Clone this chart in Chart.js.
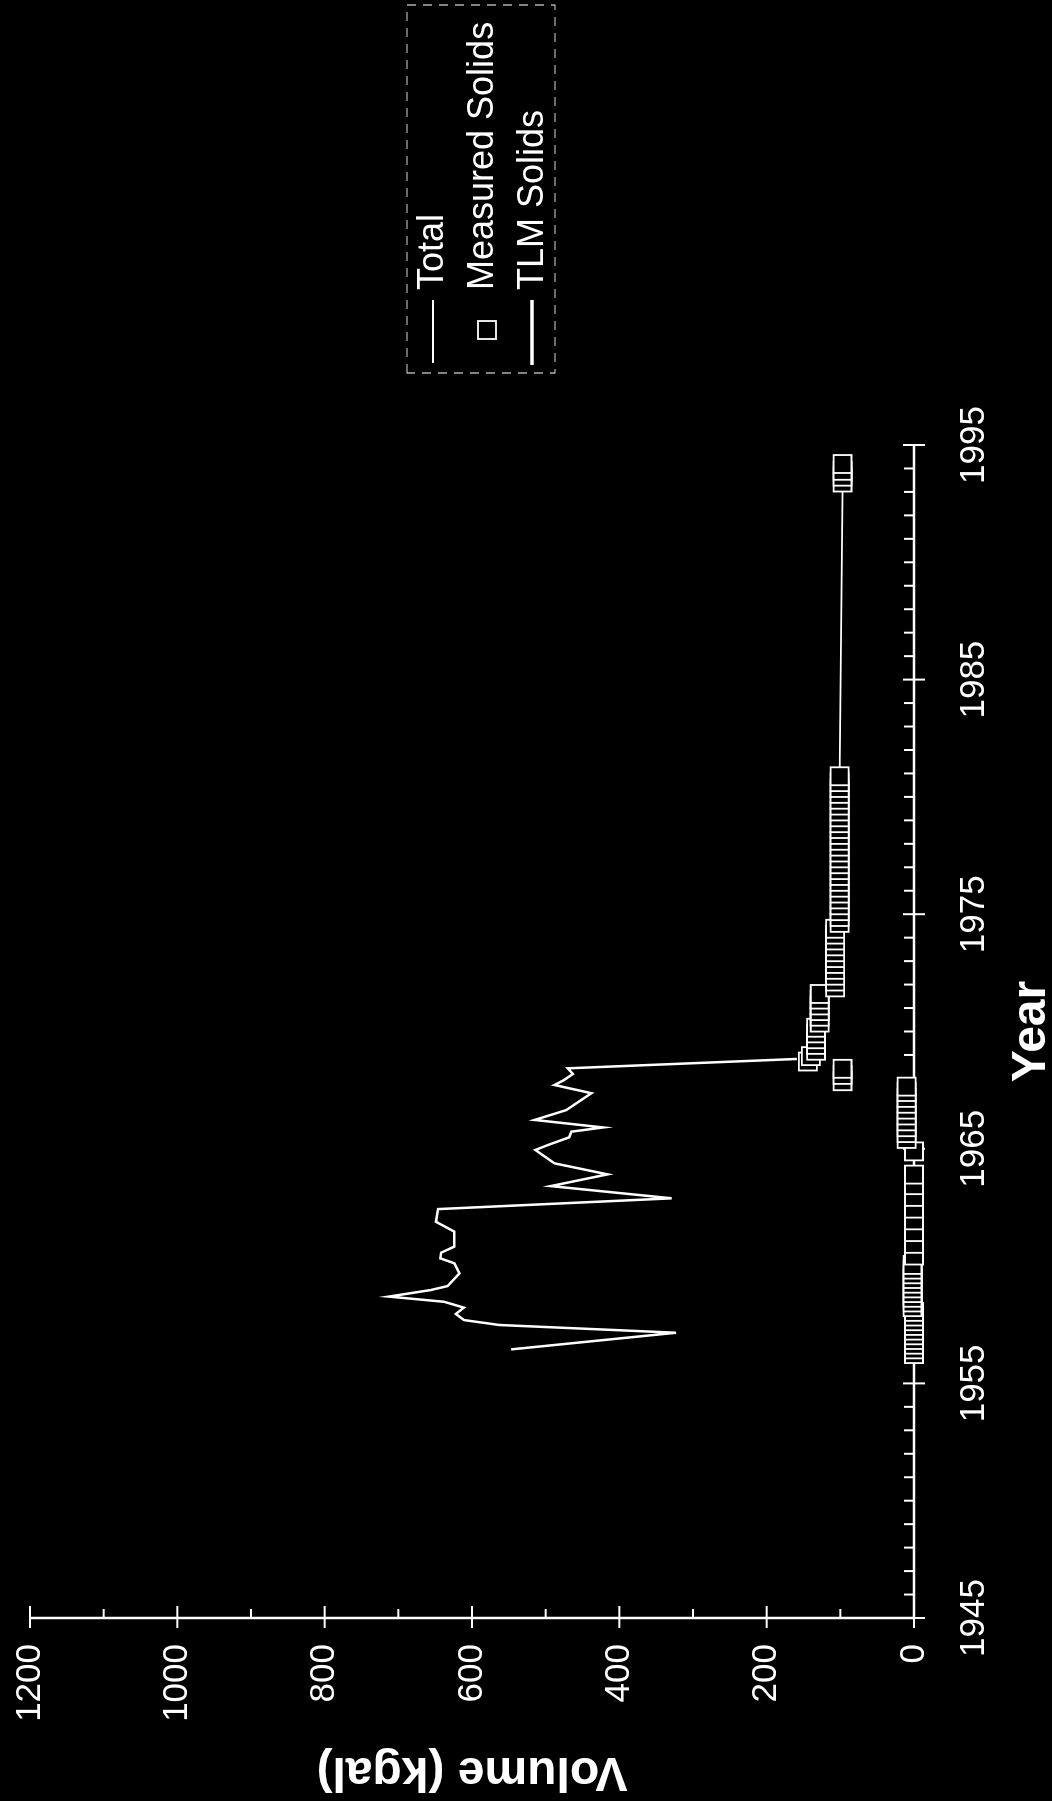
<!DOCTYPE html>
<html><head><meta charset="utf-8">
<script src="https://cdn.jsdelivr.net/npm/chart.js@4/dist/chart.umd.min.js"></script>
<style>
html,body{margin:0;padding:0;background:#000;width:1052px;height:1801px;overflow:hidden;}
#rot{position:absolute;left:0;top:0;width:1801px;height:1052px;transform-origin:0 0;transform:translate(0,1801px) rotate(-90deg);}
canvas{display:block;}
</style></head><body>
<div id="rot"><canvas id="c" width="1801" height="1052"></canvas></div>
<script>
// ---- tick labels ----
const yearTicks = [1945, 1955, 1965, 1975, 1985, 1995];
const volumeTicks = [0, 200, 400, 600, 800, 1000, 1200];
const volumeMinorTicks = [100, 300, 500, 700, 900, 1100];
const yearMinorTicks = [1946,1947,1948,1949,1950,1951,1952,1953,1954,1956,1957,1958,1959,1960,1961,1962,1963,1964,
  1966,1967,1968,1969,1970,1971,1972,1973,1974,1976,1977,1978,1979,1980,1981,1982,1983,1984,
  1986,1987,1988,1989,1990,1991,1992,1993,1994];

// ---- series ----
const seriesNames = ['Total', 'Measured Solids', 'TLM Solids'];

const totalYears = [1956.45, 1957.16, 1957.49, 1957.70, 1957.96, 1958.23, 1958.48, 1958.70, 1958.98, 1959.15,
  1959.69, 1960.12, 1960.33, 1960.57, 1960.83, 1961.47, 1961.89, 1962.43, 1962.89, 1963.41,
  1963.91, 1964.38, 1964.95, 1965.16, 1965.49, 1965.73, 1965.91, 1966.23, 1966.65, 1967.37,
  1967.72, 1967.93, 1968.19, 1968.43, 1968.83];
const totalValues = [547, 323, 563, 611, 622, 611, 638, 713, 656, 633,
  617, 624, 643, 642, 624, 624, 649, 646, 329, 493,
  416, 488, 514, 497, 468, 465, 422, 515, 472, 438,
  488, 475, 463, 470, 159];

const measuredYears = [1956.25, 1956.45, 1956.65, 1956.85, 1957.05, 1957.25, 1957.45, 1957.65, 1957.85, 1958.05,
  1958.25, 1958.45, 1958.65, 1958.85, 1959.05, 1959.25, 1959.45, 1959.65, 1959.85, 1960.05,
  1960.45, 1960.95, 1961.45, 1961.95, 1962.45, 1962.95, 1963.45, 1963.90,
  1964.89,
  1965.42, 1965.67, 1965.92, 1966.17, 1966.42, 1966.67, 1966.92, 1967.17, 1967.42, 1967.65,
  1967.88, 1968.15, 1968.41,
  1968.72, 1968.95,
  1969.18, 1969.43, 1969.67, 1969.92, 1970.16,
  1970.38, 1970.63, 1970.87, 1971.11, 1971.36, 1971.60,
  1971.88, 1972.13, 1972.38, 1972.63, 1972.88, 1973.13, 1973.38, 1973.63, 1973.88, 1974.13, 1974.38,
  1974.63, 1974.88, 1975.13, 1975.38, 1975.63, 1975.88, 1976.13, 1976.38, 1976.63, 1976.88,
  1977.13, 1977.38, 1977.63, 1977.88, 1978.13, 1978.38, 1978.63, 1978.88, 1979.13, 1979.38,
  1979.63, 1979.88, 1980.13, 1980.38, 1980.63, 1980.88,
  1993.40, 1993.65, 1993.90, 1994.19];
const measuredValues = [0, 0, 0, 0, 0, 0, 0, 0, 0, 0,
  2, 2, 2, 2, 2, 2, 2, 2, 2, 2,
  0, 0, 0, 0, 0, 0, 0, 0,
  0,
  10, 10, 10, 10, 10, 10, 10, 10, 10, 10,
  97, 97, 97,
  144, 140,
  133, 133, 133, 133, 133,
  128, 128, 128, 128, 128, 128,
  107, 107, 107, 107, 107, 107, 107, 107, 107, 107, 107,
  101, 101, 101, 101, 101, 101, 101, 101, 101, 101,
  101, 101, 101, 101, 101, 101, 101, 101, 101, 101,
  101, 101, 101, 101, 101, 101,
  97, 97, 97, 97];

const tlmYears = [1956.25, 1960.05, 1960.45, 1963.90, 1964.89, 1965.42, 1967.65, 1967.80, 1968.72, 1968.95,
  1969.18, 1970.16, 1970.38, 1971.60, 1971.88, 1974.38, 1974.63, 1980.88, 1993.40, 1994.19];
const tlmValues = [0, 2, 0, 0, 0, 10, 10, null, 144, 140,
  133, 133, 128, 128, 107, 107, 101, 101, 97, 97];

const toPoints = (xs, ys) => xs.map((x, i) => ({x: x, y: ys[i]}));

const FONT = '"Liberation Sans", Arial, Helvetica, sans-serif';
const WHITE = '#ffffff';

const axesPlugin = {
  id: 'axesPlugin',
  beforeDatasetsDraw(chart) {
    const {ctx, scales: {x, y}} = chart;
    const x0 = x.getPixelForValue(yearTicks[0]);
    const x1 = x.getPixelForValue(yearTicks[yearTicks.length - 1]);
    const y0 = y.getPixelForValue(volumeTicks[0]);
    const y1 = y.getPixelForValue(volumeTicks[volumeTicks.length - 1]);
    ctx.save();
    ctx.strokeStyle = WHITE;
    ctx.lineCap = 'butt';
    ctx.lineWidth = 2.5;
    ctx.beginPath(); ctx.moveTo(x0, y0); ctx.lineTo(x1, y0); ctx.stroke();
    ctx.beginPath(); ctx.moveTo(x0, y0); ctx.lineTo(x0, y1); ctx.stroke();
    ctx.lineWidth = 2;
    yearTicks.forEach(v => { const p = x.getPixelForValue(v); ctx.beginPath(); ctx.moveTo(p, y0 - 11); ctx.lineTo(p, y0 + 11); ctx.stroke(); });
    yearMinorTicks.forEach(v => { const p = x.getPixelForValue(v); ctx.beginPath(); ctx.moveTo(p, y0 - 10); ctx.lineTo(p, y0); ctx.stroke(); });
    volumeTicks.forEach(v => { const p = y.getPixelForValue(v); ctx.beginPath(); ctx.moveTo(x0 - 10, p); ctx.lineTo(x0 + 12, p); ctx.stroke(); });
    volumeMinorTicks.forEach(v => { const p = y.getPixelForValue(v); ctx.beginPath(); ctx.moveTo(x0, p); ctx.lineTo(x0 + 9, p); ctx.stroke(); });
    ctx.restore();
  },
  afterDraw(chart) {
    const {ctx} = chart;
    ctx.save();
    // legend box (dashed)
    ctx.strokeStyle = '#d8d8d8';
    ctx.lineWidth = 1.2;
    ctx.setLineDash([9, 7]);
    ctx.strokeRect(1428, 407, 368, 148);
    ctx.setLineDash([]);
    ctx.strokeStyle = WHITE;
    // Total sample
    ctx.lineWidth = 2.2;
    ctx.beginPath(); ctx.moveTo(1438, 433); ctx.lineTo(1501, 433); ctx.stroke();
    // Measured marker
    ctx.lineWidth = 1.8;
    ctx.fillStyle = '#000';
    ctx.fillRect(1462, 478, 18, 18);
    ctx.strokeRect(1462, 478, 18, 18);
    // TLM sample
    ctx.lineWidth = 3.5;
    ctx.beginPath(); ctx.moveTo(1436, 532); ctx.lineTo(1501, 532); ctx.stroke();
    ctx.fillStyle = WHITE;
    ctx.font = '36px ' + FONT;
    ctx.textAlign = 'left';
    ctx.textBaseline = 'alphabetic';
    ctx.fillText(seriesNames[0], 1511, 443);
    ctx.fillText(seriesNames[1], 1511, 493);
    ctx.fillText(seriesNames[2], 1511, 543);
    ctx.restore();
  }
};

new Chart(document.getElementById('c'), {
  type: 'line',
  data: {
    datasets: [
      {
        label: seriesNames[0],
        data: toPoints(totalYears, totalValues),
        borderColor: WHITE,
        borderWidth: 2.5,
        pointRadius: 0,
        tension: 0,
        fill: false,
        order: 1
      },
      {
        label: seriesNames[1],
        data: toPoints(measuredYears, measuredValues),
        showLine: false,
        pointStyle: 'rect',
        pointRadius: 12.7,
        pointBorderWidth: 1.8,
        pointBorderColor: WHITE,
        pointBackgroundColor: '#000',
        borderColor: WHITE,
        backgroundColor: '#000',
        clip: false,
        order: 0
      },
      {
        label: seriesNames[2],
        data: toPoints(tlmYears, tlmValues),
        borderColor: WHITE,
        borderWidth: 1.8,
        pointRadius: 0,
        tension: 0,
        spanGaps: false,
        fill: false,
        order: 2
      }
    ]
  },
  options: {
    responsive: false,
    devicePixelRatio: 1,
    animation: false,
    events: [],
    layout: {padding: {left: 0, top: 30, right: 445, bottom: 0}},
    plugins: {legend: {display: false}, tooltip: {enabled: false}},
    scales: {
      x: {
        type: 'linear',
        min: yearTicks[0],
        max: yearTicks[yearTicks.length - 1],
        afterBuildTicks: s => { s.ticks = yearTicks.map(v => ({value: v})); },
        afterFit: s => { s.height = 138; },
        grid: {display: false},
        border: {display: false},
        ticks: {
          color: WHITE,
          font: {family: FONT, size: 35},
          padding: 31,
          maxRotation: 0,
          autoSkip: false,
          callback: v => String(v)
        },
        title: {
          display: true,
          text: 'Year',
          color: WHITE,
          font: {family: FONT, size: 48, weight: 'bold', lineHeight: 0.85},
          padding: {top: 0, bottom: 0}
        }
      },
      y: {
        type: 'linear',
        min: volumeTicks[0],
        max: volumeTicks[volumeTicks.length - 1],
        afterBuildTicks: s => { s.ticks = volumeTicks.map(v => ({value: v})); },
        afterFit: s => { s.width = 183; },
        grid: {display: true, drawOnChartArea: false, drawTicks: true, tickLength: 26, color: 'rgba(0,0,0,0)'},
        border: {display: false},
        ticks: {
          color: WHITE,
          font: {family: FONT, size: 35},
          padding: 0,
          autoSkip: false,
          callback: v => String(v)
        },
        title: {
          display: true,
          text: 'Volume (kgal)',
          color: WHITE,
          font: {family: FONT, size: 48, weight: 'bold', lineHeight: 0.85},
          padding: {top: 9, bottom: 0}
        }
      }
    }
  },
  plugins: [axesPlugin]
});
</script>
</body></html>
